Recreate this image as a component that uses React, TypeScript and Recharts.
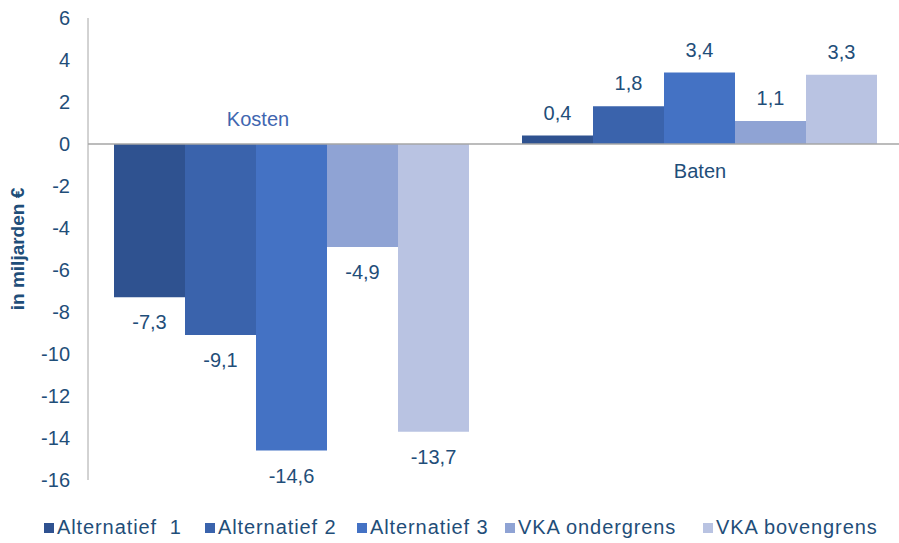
import React from "react";
import {
  Bar,
  BarChart,
  LabelList,
  ReferenceDot,
  ReferenceLine,
  XAxis,
  YAxis,
} from "recharts";

const categories = ["Kosten", "Baten"];
const alternatief1 = [-7.3, 0.4];
const alternatief2 = [-9.1, 1.8];
const alternatief3 = [-14.6, 3.4];
const vkaOndergrens = [-4.9, 1.1];
const vkaBovengrens = [-13.7, 3.3];
const yTicks = [-16, -14, -12, -10, -8, -6, -4, -2, 0, 2, 4, 6];

const series = [
  { key: "alt1", name: "Alternatief  1", values: alternatief1, color: "#2F5290" },
  { key: "alt2", name: "Alternatief 2", values: alternatief2, color: "#3A63AC" },
  { key: "alt3", name: "Alternatief 3", values: alternatief3, color: "#4472C4" },
  { key: "vkaO", name: "VKA ondergrens", values: vkaOndergrens, color: "#8FA3D4" },
  { key: "vkaB", name: "VKA bovengrens", values: vkaBovengrens, color: "#B9C3E2" },
];

// legend item left edges in px
const legendX = [44, 205, 357, 505, 703];

const data = categories.map((name, i) => {
  const row: Record<string, string | number> = { name };
  series.forEach((s) => (row[s.key] = s.values[i]));
  return row;
});

const FONT = "'Liberation Sans', Arial, sans-serif";
const TEXT = "#1F4E79";

const fmt = (v: number) => String(v).replace(".", ",");

function ValueLabel(props: any) {
  const { x, y, width, height, value } = props;
  const top = Math.min(y, y + height);
  const bottom = Math.max(y, y + height);
  const ty = value < 0 ? bottom + 32 : top - 16;
  return (
    <text
      x={x + width / 2}
      y={ty}
      textAnchor="middle"
      fill={TEXT}
      fontSize={20}
      fontFamily={FONT}
    >
      {fmt(value)}
    </text>
  );
}

function ChartLegend() {
  return (
    <div
      style={{
        position: "absolute",
        top: 516,
        left: 0,
        width: 899,
        height: 24,
        fontFamily: FONT,
        fontSize: 20,
        color: TEXT,
        whiteSpace: "pre",
        letterSpacing: 0.9,
      }}
    >
      {series.map((s, i) => (
        <div
          key={s.key}
          style={{
            position: "absolute",
            left: legendX[i],
            top: 0,
            display: "flex",
            alignItems: "center",
          }}
        >
          <span
            style={{
              width: 10,
              height: 10,
              background: s.color,
              marginRight: 3,
              display: "inline-block",
            }}
          />
          <span>{s.name}</span>
        </div>
      ))}
    </div>
  );
}

export default function App() {
  return (
    <div
      style={{
        position: "absolute",
        left: 0,
        top: 0,
        width: 899,
        height: 543,
        overflow: "hidden",
        background: "#fff",
      }}
    >
      <BarChart
        width={905}
        height={543}
        data={data}
        margin={{ top: 18, right: 1, bottom: 63, left: 0 }}
        barCategoryGap={26}
        barGap={0}
      >
        <XAxis dataKey="name" hide />
        <YAxis
          domain={[-16, 6]}
          ticks={yTicks}
          width={88}
          tickSize={0}
          tickMargin={18}
          axisLine={{ stroke: "#A6A6A6" }}
          tickLine={false}
          tick={{ fill: TEXT, fontSize: 20, fontFamily: FONT }}
          interval={0}
          label={{
            content: () => (
              <text
                x={24}
                y={249}
                transform="rotate(-90 24 249)"
                textAnchor="middle"
                fill={TEXT}
                fontSize={19}
                fontWeight="bold"
                fontFamily={FONT}
              >
                in miljarden €
              </text>
            ),
          }}
        />
        <ReferenceLine y={0} stroke="#A6A6A6" strokeWidth={1.5} />
        {series.map((s) => (
          <Bar
            key={s.key}
            dataKey={s.key}
            name={s.name}
            fill={s.color}
            isAnimationActive={false}
          >
            <LabelList dataKey={s.key} content={<ValueLabel />} />
          </Bar>
        ))}
        <ReferenceDot
          x="Kosten"
          y={0}
          r={0}
          fill="none"
          stroke="none"
          label={{
            content: (p: any) => (
              <text
                x={p.viewBox.x - 34}
                y={p.viewBox.y - 18}
                textAnchor="middle"
                fill="#3F66B0"
                fontSize={20}
                fontFamily={FONT}
              >
                Kosten
              </text>
            ),
          }}
        />
        <ReferenceDot
          x="Baten"
          y={0}
          r={0}
          fill="none"
          stroke="none"
          label={{
            content: (p: any) => (
              <text
                x={p.viewBox.x}
                y={p.viewBox.y + 34}
                textAnchor="middle"
                fill={TEXT}
                fontSize={20}
                fontFamily={FONT}
              >
                Baten
              </text>
            ),
          }}
        />
      </BarChart>
      <ChartLegend />
    </div>
  );
}
